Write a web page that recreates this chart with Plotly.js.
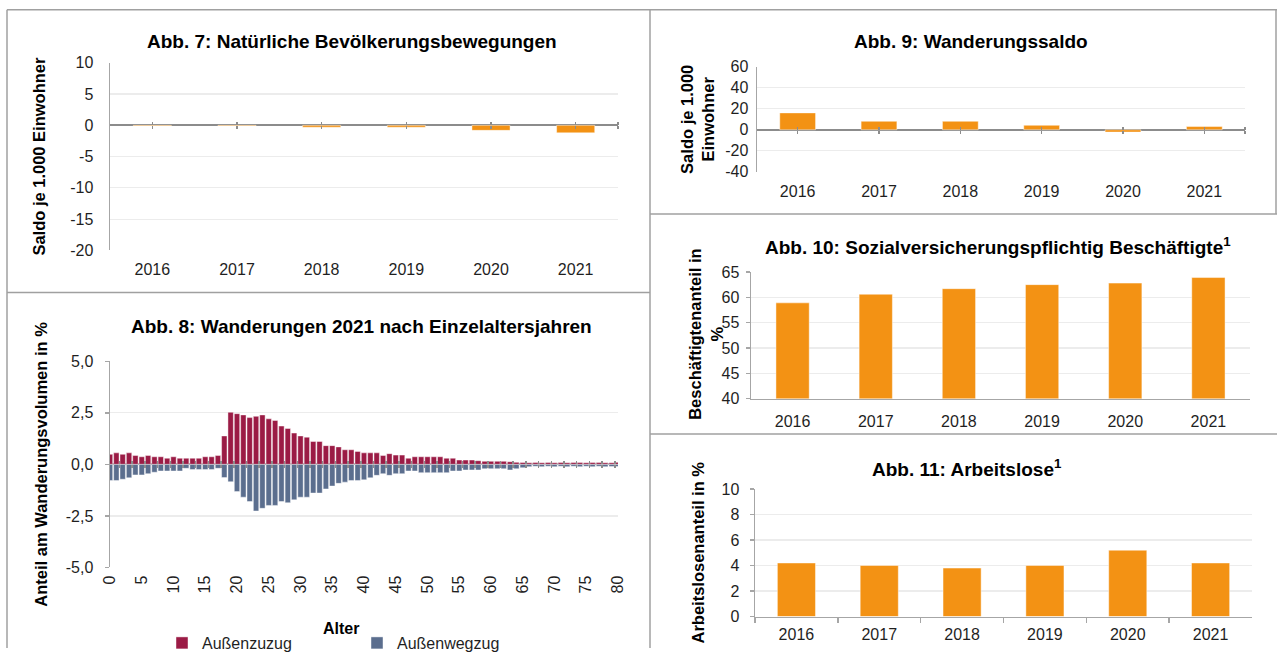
<!DOCTYPE html>
<html>
<head>
<meta charset="utf-8">
<script src="https://cdn.plot.ly/plotly-3.0.1.min.js"></script>
<style>
html, body { margin: 0; padding: 0; background: #ffffff; }
#chart { width: 1277px; height: 660px; }
</style>
</head>
<body>
<div id="chart"></div>
<script>
// ---------------- DATA ----------------
const years = ['2016', '2017', '2018', '2019', '2020', '2021'];

// Abb. 7: Natürliche Bevölkerungsbewegungen (Saldo je 1.000 Einwohner)
const natuerlicherSaldo = [-0.1, -0.1, -0.3, -0.3, -0.8, -1.2];
// Abb. 9: Wanderungssaldo (Saldo je 1.000 Einwohner)
const wanderungsSaldo = [16.1, 8.1, 8.1, 4.3, -2.2, 3.1];
// Abb. 10: Sozialversicherungspflichtig Beschäftigte (Anteil in %)
const beschaeftigtenAnteil = [58.9, 60.6, 61.7, 62.5, 62.8, 63.9];
// Abb. 11: Arbeitslose (Anteil in %)
const arbeitslosenAnteil = [4.2, 4.0, 3.8, 4.0, 5.2, 4.2];

// Abb. 8: Wanderungen 2021 nach Einzelaltersjahren (Anteil am Wanderungsvolumen in %)
const alter = [
  0, 1, 2, 3, 4, 5, 6, 7, 8, 9, 10, 11, 12, 13, 14, 15, 16, 17, 18, 19, 20,
  21, 22, 23, 24, 25, 26, 27, 28, 29, 30, 31, 32, 33, 34, 35, 36, 37, 38, 39, 40,
  41, 42, 43, 44, 45, 46, 47, 48, 49, 50, 51, 52, 53, 54, 55, 56, 57, 58, 59, 60,
  61, 62, 63, 64, 65, 66, 67, 68, 69, 70, 71, 72, 73, 74, 75, 76, 77, 78, 79, 80
];
const aussenzuzug = [
  0.49, 0.56, 0.49, 0.56, 0.43, 0.37, 0.43, 0.37, 0.37, 0.30, 0.37,
  0.30, 0.30, 0.30, 0.30, 0.37, 0.37, 0.43, 1.38, 2.53, 2.46,
  2.40, 2.27, 2.33, 2.40, 2.21, 2.13, 1.86, 1.74, 1.52, 1.38,
  1.32, 1.11, 1.11, 0.91, 0.91, 0.85, 0.71, 0.71, 0.63, 0.56,
  0.56, 0.56, 0.43, 0.52, 0.45, 0.45, 0.30, 0.37, 0.37, 0.37,
  0.37, 0.37, 0.30, 0.30, 0.21, 0.21, 0.21, 0.18, 0.15, 0.15,
  0.15, 0.15, 0.13, 0.10, 0.09, 0.08, 0.09, 0.08, 0.09, 0.08,
  0.09, 0.08, 0.09, 0.09, 0.08, 0.09, 0.09, 0.08, 0.08, 0.10
];
const aussenwegzug = [
  -0.78, -0.78, -0.72, -0.65, -0.51, -0.51, -0.45, -0.38, -0.32, -0.32, -0.32,
  -0.32, -0.19, -0.25, -0.25, -0.25, -0.25, -0.19, -0.64, -0.84, -1.32,
  -1.59, -1.80, -2.26, -2.13, -1.99, -1.99, -1.80, -1.86, -1.72, -1.59,
  -1.59, -1.39, -1.39, -1.19, -1.05, -0.92, -0.86, -0.78, -0.78, -0.75,
  -0.65, -0.53, -0.45, -0.53, -0.45, -0.45, -0.32, -0.32, -0.40, -0.40,
  -0.40, -0.40, -0.40, -0.32, -0.32, -0.27, -0.27, -0.27, -0.21, -0.21,
  -0.21, -0.21, -0.27, -0.21, -0.16, -0.11, -0.09, -0.11, -0.09, -0.11,
  -0.09, -0.11, -0.09, -0.11, -0.09, -0.11, -0.09, -0.11, -0.10, -0.10
];

// Tick labels
const ticks7 = [10, 5, 0, -5, -10, -15, -20];
const ticks8 = [5, 2.5, 0, -2.5, -5];
const ticks8Text = ['5,0', '2,5', '0,0', '-2,5', '-5,0'];
const ticks9 = [60, 40, 20, 0, -20, -40];
const ticks10 = [65, 60, 55, 50, 45, 40];
const ticks11 = [10, 8, 6, 4, 2, 0];
const alterTicks = alter.filter(a => a % 5 === 0);

// ---------------- STYLE / LAYOUT HELPERS ----------------
const W = 1277, H = 660;
const px = x => x / W;
const py = y => 1 - y / H;

const FONT = 'Liberation Sans, Arial, Helvetica, sans-serif';
const ORANGE = '#f39214';
const RED = '#9b1b45';
const BLUE = '#5b6e8e';
const AXIS = '#a6a6a6';
const ZERO = '#8c8c8c';
const GRID = '#ececec';
const TXT = '#1f1f1f';
const BORDER = '#a0a0a0';

// plot boxes in pixels: [left, right, top, bottom]
const box7  = [110, 618, 64, 255];
const box8  = [110, 618, 368, 578];
const box9  = [757, 1245, 68, 175];
const box10 = [751, 1250, 277, 406];
const box11 = [755, 1252, 498, 628];

const xDom = b => [px(b[0]), px(b[1])];
const yDom = b => [py(b[3]), py(b[2])];
const zeroPos = (b, r) => py(b[2] + (r[1] - 0) / (r[1] - r[0]) * (b[3] - b[2]));

const range7 = [-20, 10], range8 = [-5, 5], range9 = [-40, 60], range10 = [40, 65], range11 = [0, 10];

const yTitleFont = { family: FONT, size: 16.5, color: '#000000', weight: 'bold' };

function yAxis(b, r, tv, tt, titleText, titleStandoff, extra) {
  return Object.assign({
    domain: yDom(b), range: r, fixedrange: true,
    tickvals: tv, ticktext: tt,
    tickfont: { family: FONT, size: 16, color: TXT },
    showline: true, linecolor: AXIS, linewidth: 1.5,
    showgrid: true, gridcolor: GRID, gridwidth: 1.2,
    zeroline: false,
    ticks: '',
    title: { text: titleText, font: yTitleFont, standoff: titleStandoff }
  }, extra || {});
}

function xCatAxis(b, anchor, extra) {
  return Object.assign({
    domain: xDom(b), anchor: anchor, type: 'category', fixedrange: true,
    categoryorder: 'array', categoryarray: years, range: [-0.5, years.length - 0.5],
    tickfont: { family: FONT, size: 16, color: TXT },
    showgrid: false, zeroline: false, showline: false, ticks: ''
  }, extra || {});
}

// tick-mark axes crossing the zero line
function crossAxis(b, base, pos, r, tv, side) {
  return {
    domain: xDom(b), overlaying: base, anchor: 'free', position: pos, side: side,
    range: r, fixedrange: true, tickvals: tv, showticklabels: false,
    ticks: 'outside', ticklen: 3, tickwidth: 1.5, tickcolor: ZERO,
    showgrid: false, zeroline: false, showline: false
  };
}

const catIdx = years.map((_, i) => i);
const catIdxEnd = catIdx.concat([years.length - 0.5]);
const crossAlter = alter.filter(a => a % 2 === 1).map(a => a + 0.5);

// ---------------- TRACES ----------------
const barLine = { color: 'rgba(255,255,255,0.45)', width: 1 };
const data = [
  { type: 'bar', x: years, y: natuerlicherSaldo, xaxis: 'x', yaxis: 'y', width: 0.45,
    marker: { color: ORANGE, line: barLine }, showlegend: false, name: 'Abb. 7' },
  { type: 'bar', x: alter, y: aussenzuzug, xaxis: 'x2', yaxis: 'y2', width: 0.85,
    marker: { color: RED, line: { color: 'rgba(255,255,255,0.55)', width: 0.8 } }, name: 'Außenzuzug' },
  { type: 'bar', x: alter, y: aussenwegzug, xaxis: 'x2', yaxis: 'y2', width: 0.85,
    marker: { color: BLUE, line: { color: 'rgba(255,255,255,0.55)', width: 0.8 } }, name: 'Außenwegzug' },
  { type: 'bar', x: years, y: wanderungsSaldo, xaxis: 'x3', yaxis: 'y3', width: 0.44,
    marker: { color: ORANGE, line: barLine }, showlegend: false, name: 'Abb. 9' },
  { type: 'bar', x: years, y: beschaeftigtenAnteil, xaxis: 'x4', yaxis: 'y4', width: 0.4,
    marker: { color: ORANGE, line: barLine }, showlegend: false, name: 'Abb. 10' },
  { type: 'bar', x: years, y: arbeitslosenAnteil, xaxis: 'x5', yaxis: 'y5', width: 0.46,
    marker: { color: ORANGE, line: barLine }, showlegend: false, name: 'Abb. 11' }
];
// invisible helpers so the crossing tick axes get drawn
[['x6', 'y'], ['x7', 'y'], ['x8', 'y2'], ['x9', 'y2'], ['x10', 'y3'], ['x11', 'y3']].forEach(p => {
  data.push({ type: 'scatter', mode: 'markers', x: [0], y: [null], xaxis: p[0], yaxis: p[1],
    showlegend: false, hoverinfo: 'skip' });
});

// ---------------- LAYOUT ----------------
const titleFont = { family: FONT, size: 19, color: '#000000', weight: 'bold' };
function title(text, x, y) {
  return { text: text, x: px(x), y: py(y), xref: 'paper', yref: 'paper',
    xanchor: 'center', yanchor: 'middle', showarrow: false, font: titleFont };
}

function line(x0, y0, x1, y1) {
  return { type: 'line', xref: 'paper', yref: 'paper', x0: px(x0), y0: py(y0), x1: px(x1), y1: py(y1),
    line: { color: BORDER, width: 1.5 } };
}

const layout = {
  width: W, height: H,
  margin: { l: 0, r: 0, t: 0, b: 0, pad: 0 },
  paper_bgcolor: '#ffffff', plot_bgcolor: 'rgba(0,0,0,0)',
  font: { family: FONT, size: 16, color: TXT },
  barmode: 'relative',
  showlegend: true,
  legend: {
    orientation: 'h', x: px(162), y: py(638), xanchor: 'left', yanchor: 'top',
    font: { family: FONT, size: 16, color: TXT },
    entrywidth: 150, entrywidthmode: 'pixels', itemwidth: 30,
    bgcolor: 'rgba(0,0,0,0)', traceorder: 'normal'
  },

  // Abb. 7
  xaxis: xCatAxis(box7, 'y', { ticklabelstandoff: 8 }),
  yaxis: yAxis(box7, range7, ticks7, ticks7.map(String), 'Saldo je 1.000 Einwohner', 20,
    { anchor: 'x', ticklabelstandoff: 12, zeroline: true, zerolinecolor: ZERO, zerolinewidth: 2 }),
  xaxis6: crossAxis(box7, 'x', zeroPos(box7, range7), [-0.5, years.length - 0.5], catIdxEnd, 'bottom'),
  xaxis7: crossAxis(box7, 'x', zeroPos(box7, range7), [-0.5, years.length - 0.5], catIdxEnd, 'top'),

  // Abb. 8
  xaxis2: {
    domain: xDom(box8), anchor: 'y2', range: [0, 80], fixedrange: true,
    tickvals: alterTicks, ticktext: alterTicks.map(String), tickangle: -90,
    tickfont: { family: FONT, size: 16, color: TXT },
    showgrid: false, zeroline: false, showline: false, ticks: '', ticklabelstandoff: 4
  },
  yaxis2: yAxis(box8, range8, ticks8, ticks8Text, 'Anteil am Wanderungsvolumen in %', 14,
    { anchor: 'x2', ticks: 'outside', ticklen: 4, tickcolor: AXIS, tickwidth: 1.5, ticklabelstandoff: 8,
      zeroline: true, zerolinecolor: ZERO, zerolinewidth: 2 }),
  xaxis8: crossAxis(box8, 'x2', zeroPos(box8, range8), [0, 80], crossAlter, 'bottom'),
  xaxis9: crossAxis(box8, 'x2', zeroPos(box8, range8), [0, 80], crossAlter, 'top'),

  // Abb. 9
  xaxis3: xCatAxis(box9, 'y3', { ticklabelstandoff: 8 }),
  yaxis3: yAxis(box9, range9, ticks9, ticks9.map(String), 'Saldo je 1.000<br>Einwohner', 6,
    { anchor: 'x3', ticklabelstandoff: 4, zeroline: true, zerolinecolor: ZERO, zerolinewidth: 2 }),
  xaxis10: crossAxis(box9, 'x3', zeroPos(box9, range9), [-0.5, years.length - 0.5], catIdxEnd, 'bottom'),
  xaxis11: crossAxis(box9, 'x3', zeroPos(box9, range9), [-0.5, years.length - 0.5], catIdxEnd, 'top'),

  // Abb. 10
  xaxis4: xCatAxis(box10, 'y4', { showline: true, linecolor: AXIS, linewidth: 1.5, ticklabelstandoff: 8 }),
  yaxis4: yAxis(box10, range10, ticks10, ticks10.map(String), '', 0,
    { anchor: 'x4', ticks: 'outside', ticklen: 4, tickcolor: AXIS, tickwidth: 1.5, ticklabelstandoff: 3 }),

  // Abb. 11
  xaxis5: xCatAxis(box11, 'y5', { showline: true, linecolor: AXIS, linewidth: 1.5,
    ticks: 'outside', tickson: 'boundaries', ticklen: 5, tickcolor: AXIS, tickwidth: 1.5, ticklabelstandoff: 3 }),
  yaxis5: yAxis(box11, range11, ticks11, ticks11.map(String), 'Arbeitslosenanteil in %', 12,
    { anchor: 'x5', ticks: 'outside', ticklen: 4, tickcolor: AXIS, tickwidth: 1.5, ticklabelstandoff: 7 }),

  annotations: [
    title('Abb. 7: Natürliche Bevölkerungsbewegungen', 352, 42),
    title('Abb. 8: Wanderungen 2021 nach Einzelaltersjahren', 361, 333),
    title('Abb. 9: Wanderungssaldo', 971, 42),
    title('Abb. 10: Sozialversicherungspflichtig Beschäftigte<sup>1</sup>', 998, 251),
    title('Abb. 11: Arbeitslose<sup>1</sup>', 967, 477),
    // y-axis title of Abb. 10 (placed close to its tick labels as in the original)
    { text: 'Beschäftigtenanteil in<br>%', x: px(706), y: py(341), xref: 'paper', yref: 'paper',
      xanchor: 'center', yanchor: 'middle', textangle: -90, showarrow: false, font: yTitleFont },
    { text: 'Alter', x: px(341), y: py(640), xref: 'paper', yref: 'paper', xanchor: 'center', yanchor: 'middle',
      showarrow: false, font: { family: FONT, size: 16, color: '#000000', weight: 'bold' } }
  ],

  shapes: [
    line(7, 10, 1277, 10),
    line(7, 10, 7, 660),
    line(650, 10, 650, 660),
    line(1276, 10, 1276, 218),
    line(7, 298, 650, 298),
    line(650, 218, 1277, 218),
    line(650, 442, 1277, 442)
  ]
};

Plotly.newPlot('chart', data, layout, { staticPlot: true, displayModeBar: false });
</script>
</body>
</html>
